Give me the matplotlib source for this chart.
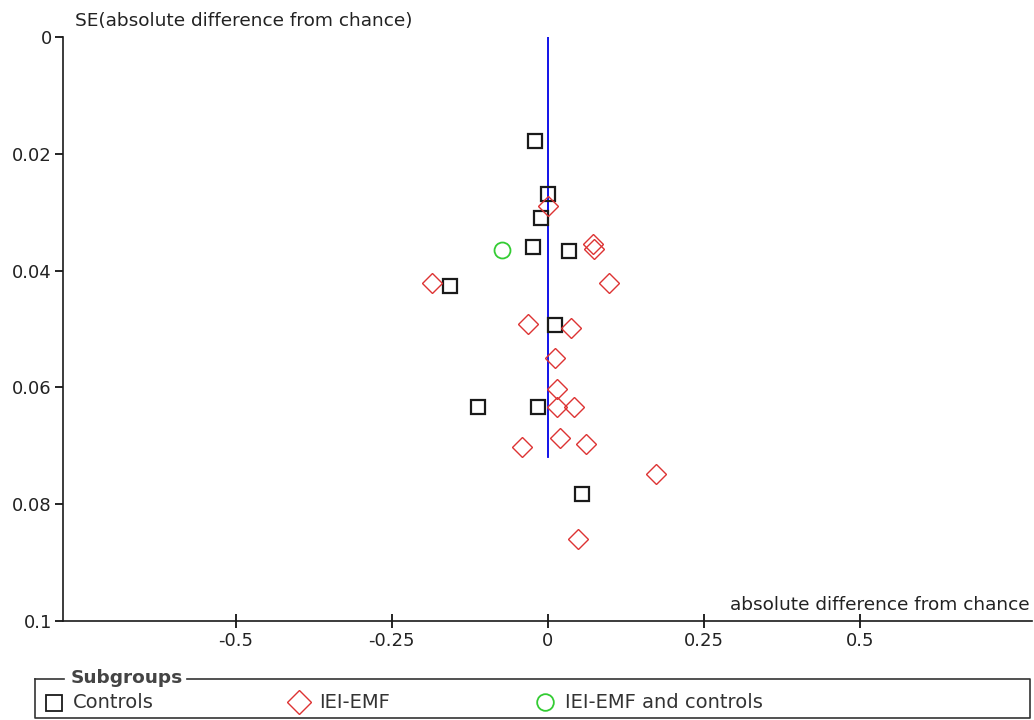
import matplotlib
matplotlib.use("Agg")
import matplotlib.pyplot as plt

plt.rcParams['font.family'] = ['DejaVu Sans']

# values (x = absolute difference from chance, y = SE)
controls_x = [-0.021, 0.000, -0.011, -0.024, 0.034, -0.157, 0.011, -0.112, -0.016, 0.054]
controls_se = [0.0178, 0.0268, 0.0310, 0.0359, 0.0367, 0.0426, 0.0493, 0.0634, 0.0634, 0.0783]

iei_x = [0.000, 0.072, 0.074, -0.185, 0.098, -0.032, 0.037, 0.011, 0.014,
         0.015, 0.042, -0.042, 0.019, 0.062, 0.174, 0.048]
iei_se = [0.0289, 0.0354, 0.0363, 0.0421, 0.0421, 0.0492, 0.0499, 0.0550, 0.0602,
          0.0633, 0.0634, 0.0702, 0.0687, 0.0697, 0.0748, 0.0860]

both_x = [-0.073]
both_se = [0.0364]

pooled = 0.0
pooled_se_max = 0.0719

xticks = [-0.5, -0.25, 0, 0.25, 0.5]
xticklabels = ['-0.5', '-0.25', '0', '0.25', '0.5']
yticks = [0, 0.02, 0.04, 0.06, 0.08, 0.1]
yticklabels = ['0', '0.02', '0.04', '0.06', '0.08', '0.1']

W, H = 1034, 720
TXT = '#222222'
fig = plt.figure(figsize=(W / 100, H / 100), dpi=100)
ax = fig.add_axes([63 / W, 1 - 621 / H, (1032 - 63) / W, (621 - 37) / H])

ax.plot([pooled, pooled], [0, pooled_se_max], color='#0000e6', lw=1.3, zorder=1)
ax.plot(controls_x, controls_se, 's', ms=10.5, mfc='none', mec='#1a1a1a', mew=1.6, ls='none', zorder=3)
ax.plot(iei_x, iei_se, 'D', ms=10, mfc='none', mec='#dd3333', mew=1.0, ls='none', zorder=3)
ax.plot(both_x, both_se, 'o', ms=11.5, mfc='none', mec='#33cc33', mew=1.3, ls='none', zorder=3)

ax.set_xlim(-0.777, 0.776)
ax.set_ylim(0.1, 0)
ax.set_xticks(xticks)
ax.set_xticklabels(xticklabels)
ax.set_yticks(yticks)
ax.set_yticklabels(yticklabels)
for s in ['top', 'right']:
    ax.spines[s].set_visible(False)
for s in ['left', 'bottom']:
    ax.spines[s].set_linewidth(1.2)
    ax.spines[s].set_color('#1a1a1a')
ax.tick_params(axis='x', direction='inout', length=10, width=1.2, labelsize=13, pad=3,
               labelcolor=TXT)
ax.tick_params(axis='y', direction='out', length=6, width=1.2, labelsize=13, pad=2,
               labelcolor=TXT)

fig.text(75 / W, 1 - 21 / H, 'SE(absolute difference from chance)', fontsize=13.3,
         ha='left', va='center', color=TXT)
fig.text(1030 / W, 1 - 605 / H, 'absolute difference from chance', fontsize=13.3,
         ha='right', va='center', color=TXT)

# legend drawn as a framed group box, in pixel coordinates
lax = fig.add_axes([0, 0, 1, 1], zorder=-1)
lax.set_xlim(0, W)
lax.set_ylim(H, 0)
lax.axis('off')
lax.plot([35, 64], [679, 679], color='#333333', lw=1.2)
lax.plot([187, 1030, 1030, 35, 35], [679, 679, 718, 718, 679], color='#333333', lw=1.2)
lax.text(71, 678, 'Subgroups', fontsize=13.3, fontweight='bold', color='#444444',
         ha='left', va='center')
lax.plot([53.5], [703], 's', ms=11.5, mfc='none', mec='#1a1a1a', mew=1.3)
lax.text(73, 703, 'Controls', fontsize=14, ha='left', va='center', color='#333333')
lax.plot([299], [702], 'D', ms=12, mfc='none', mec='#dd3333', mew=1.0)
lax.text(319, 703, 'IEI-EMF', fontsize=14, ha='left', va='center', color='#333333')
lax.plot([545], [702], 'o', ms=12, mfc='none', mec='#33cc33', mew=1.3)
lax.text(565, 703, 'IEI-EMF and controls', fontsize=14, ha='left', va='center', color='#333333')

fig.savefig('out.png', dpi=100)
